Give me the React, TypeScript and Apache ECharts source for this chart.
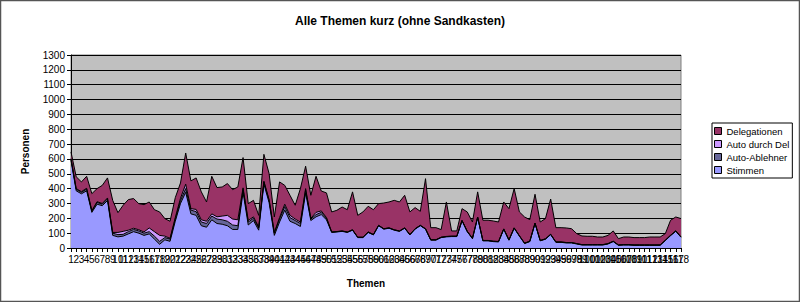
import React, { useEffect, useRef } from "react";
import * as echarts from "echarts";

const categories: string[] = [
  "1","2","3","4","5","6","7","8","9","10",
  "11","12","13","14","15","16","17","18","19","20",
  "21","22","23","24","25","26","27","28","29","30",
  "31","32","33","34","35","36","37","38","39","40",
  "41","42","43","44","45","46","47","48","49","50",
  "51","52","53","54","55","56","57","58","59","60",
  "61","62","63","64","65","66","67","68","69","70",
  "71","72","73","74","75","76","77","78","79","80",
  "81","82","83","84","85","86","87","88","89","90",
  "91","92","93","94","95","96","97","98","99","100",
  "101","102","103","104","105","106","107","108","109","110",
  "111","112","113","114","115","116","117","118",
];

const stimmen: number[] = [
  590, 385, 365, 385, 240, 295, 285, 320, 85, 75,
  80, 95, 110, 100, 85, 95, 60, 25, 55, 45,
  180, 300, 375, 230, 220, 150, 140, 190, 165, 160,
  150, 125, 125, 375, 155, 185, 120, 430, 305, 85,
  175, 255, 180, 165, 145, 370, 185, 210, 225, 190,
  105, 108, 112, 105, 120, 70, 70, 105, 88, 150,
  127, 133, 120, 112, 133, 88, 127, 150, 127, 53,
  53, 70, 75, 77, 77, 183, 110, 63, 205, 48,
  48, 43, 41, 126, 52, 133, 80, 30, 43, 165,
  48, 59, 90, 38, 38, 34, 34, 27, 20, 20,
  20, 20, 20, 27, 43, 18, 20, 20, 18, 18,
  18, 18, 18, 18, 50, 83, 113, 72,
];

const autoAblehner: number[] = [
  8, 10, 10, 12, 8, 12, 10, 12, 15, 15,
  12, 15, 15, 15, 15, 15, 20, 20, 15, 15,
  15, 20, 25, 25, 25, 25, 25, 25, 30, 30,
  30, 30, 25, 20, 20, 15, 15, 15, 15, 15,
  20, 25, 25, 20, 20, 20, 10, 15, 15, 10,
  2, 2, 2, 2, 2, 2, 2, 2, 2, 2,
  2, 2, 2, 2, 2, 2, 2, 2, 2, 2,
  2, 2, 2, 2, 2, 2, 2, 2, 2, 2,
  2, 2, 2, 2, 2, 2, 2, 2, 2, 2,
  2, 2, 2, 2, 2, 2, 2, 2, 2, 2,
  2, 2, 2, 2, 2, 2, 2, 2, 2, 2,
  2, 2, 2, 2, 2, 2, 2, 2,
];

const autoDurchDel: number[] = [
  4, 5, 5, 5, 4, 5, 5, 5, 5, 15,
  20, 10, 8, 8, 8, 25, 30, 40, 10, 5,
  10, 15, 30, 10, 15, 15, 15, 15, 15, 25,
  40, 40, 40, 10, 10, 10, 5, 5, 5, 5,
  10, 15, 15, 10, 10, 10, 5, 15, 10, 5,
  1, 1, 1, 1, 1, 1, 1, 1, 1, 1,
  1, 1, 1, 1, 1, 1, 1, 1, 1, 1,
  1, 1, 1, 1, 1, 1, 1, 1, 1, 1,
  1, 1, 1, 1, 1, 1, 1, 1, 1, 1,
  1, 1, 1, 1, 1, 1, 1, 1, 1, 1,
  1, 1, 1, 1, 1, 1, 1, 1, 1, 1,
  1, 1, 1, 1, 1, 1, 1, 1,
];

const delegationen: number[] = [
  45, 80, 65, 81, 114, 88, 122, 135, 216, 133,
  176, 206, 200, 176, 184, 175, 148, 158, 118, 115,
  134, 103, 210, 187, 212, 188, 130, 253, 197, 196,
  214, 198, 221, 204, 114, 111, 80, 181, 176, 104,
  240, 127, 135, 93, 225, 151, 155, 243, 134, 166,
  135, 143, 161, 150, 255, 147, 170, 173, 167, 146,
  173, 174, 198, 195, 219, 152, 142, 94, 337, 81,
  81, 51, 232, 35, 35, 79, 130, 109, 170, 136,
  136, 136, 131, 181, 210, 264, 160, 176, 145, 194,
  124, 136, 237, 96, 96, 98, 93, 67, 58, 56,
  56, 51, 51, 55, 69, 42, 51, 51, 49, 49,
  49, 53, 53, 53, 44, 101, 93, 123,
];

const seriesNames = ["Stimmen", "Auto-Ablehner", "Auto durch Del", "Delegationen"];
const seriesColors = ["#9999FF", "#666699", "#CC99FF", "#993366"];
const legendOrder = ["Delegationen", "Auto durch Del", "Auto-Ablehner", "Stimmen"];

const FONT = "Liberation Sans, Arial, sans-serif";

export default function App() {
  const ref = useRef<HTMLDivElement>(null);
  useEffect(() => {
    if (!ref.current) return;
    const chart = echarts.init(ref.current, undefined, { renderer: "svg" });
    const dataSets = [stimmen, autoAblehner, autoDurchDel, delegationen];
    chart.setOption({
      animation: false,
      backgroundColor: "#FFFFFF",
      textStyle: { fontFamily: FONT },
      title: {
        text: "Alle Themen kurz (ohne Sandkasten)",
        left: "center",
        top: 10,
        textStyle: { fontFamily: FONT, fontSize: 12, fontWeight: "bold", color: "#000" },
      },
      legend: {
        orient: "vertical",
        left: 712,
        top: 123,
        padding: [3, 3, 3, 2],
        borderColor: "#000",
        borderWidth: 1,
        backgroundColor: "#FFFFFF",
        itemWidth: 7,
        itemHeight: 7,
        itemGap: 3,
        textStyle: { fontFamily: FONT, fontSize: 9.5, color: "#000" },
        data: legendOrder.map((n) => ({
          name: n,
          icon: "rect",
          itemStyle: {
            color: seriesColors[seriesNames.indexOf(n)],
            borderColor: "#000",
            borderWidth: 1,
          },
        })),
      },
      grid: {
        left: 71,
        right: 119,
        top: 55,
        bottom: 54,
        show: true,
        backgroundColor: "#C0C0C0",
        borderColor: "#808080",
        borderWidth: 1,
      },
      xAxis: {
        type: "category",
        data: categories,
        boundaryGap: false,
        name: "Themen",
        nameLocation: "middle",
        nameGap: 30,
        nameTextStyle: { fontFamily: FONT, fontSize: 10, fontWeight: "bold", color: "#000", padding: [0, 20, 0, 0] },
        axisLine: { show: true, lineStyle: { color: "#000", width: 1 } },
        axisTick: { show: true, interval: 0, length: 4, lineStyle: { color: "#000" } },
        axisLabel: { interval: 0, fontFamily: FONT, fontSize: 10, color: "#000", margin: 6 },
        splitLine: { show: false },
      },
      yAxis: {
        type: "value",
        min: 0,
        max: 1300,
        interval: 100,
        name: "Personen",
        nameLocation: "middle",
        nameGap: 41,
        nameTextStyle: { fontFamily: FONT, fontSize: 10, fontWeight: "bold", color: "#000" },
        axisLine: { show: true, lineStyle: { color: "#000", width: 1 } },
        axisTick: { show: true, length: 4, lineStyle: { color: "#000" } },
        axisLabel: {
          fontFamily: FONT,
          fontSize: 10,
          color: "#000",
          margin: 6,
          formatter: (v: number) => String(v),
        },
        splitLine: { show: true, lineStyle: { color: "#000", width: 1 } },
      },
      series: seriesNames.map((name, i) => ({
        name,
        type: "line",
        stack: "total",
        data: dataSets[i],
        symbol: "none",
        color: seriesColors[i],
        itemStyle: { color: seriesColors[i] },
        lineStyle: { color: "#000", width: 1 },
        areaStyle: { color: seriesColors[i], opacity: 1 },
        z: 2,
      })),
      graphic: [
        {
          type: "rect",
          shape: { x: 0.5, y: 0.5, width: 799, height: 301 },
          style: { fill: "none", stroke: "#555", lineWidth: 1.5 },
          silent: true,
          z: 100,
        },
      ],
    });
    return () => chart.dispose();
  }, []);
  return (
    <div
      ref={ref}
      style={{ position: "fixed", left: 0, top: 0, width: 800, height: 302 }}
    />
  );
}
